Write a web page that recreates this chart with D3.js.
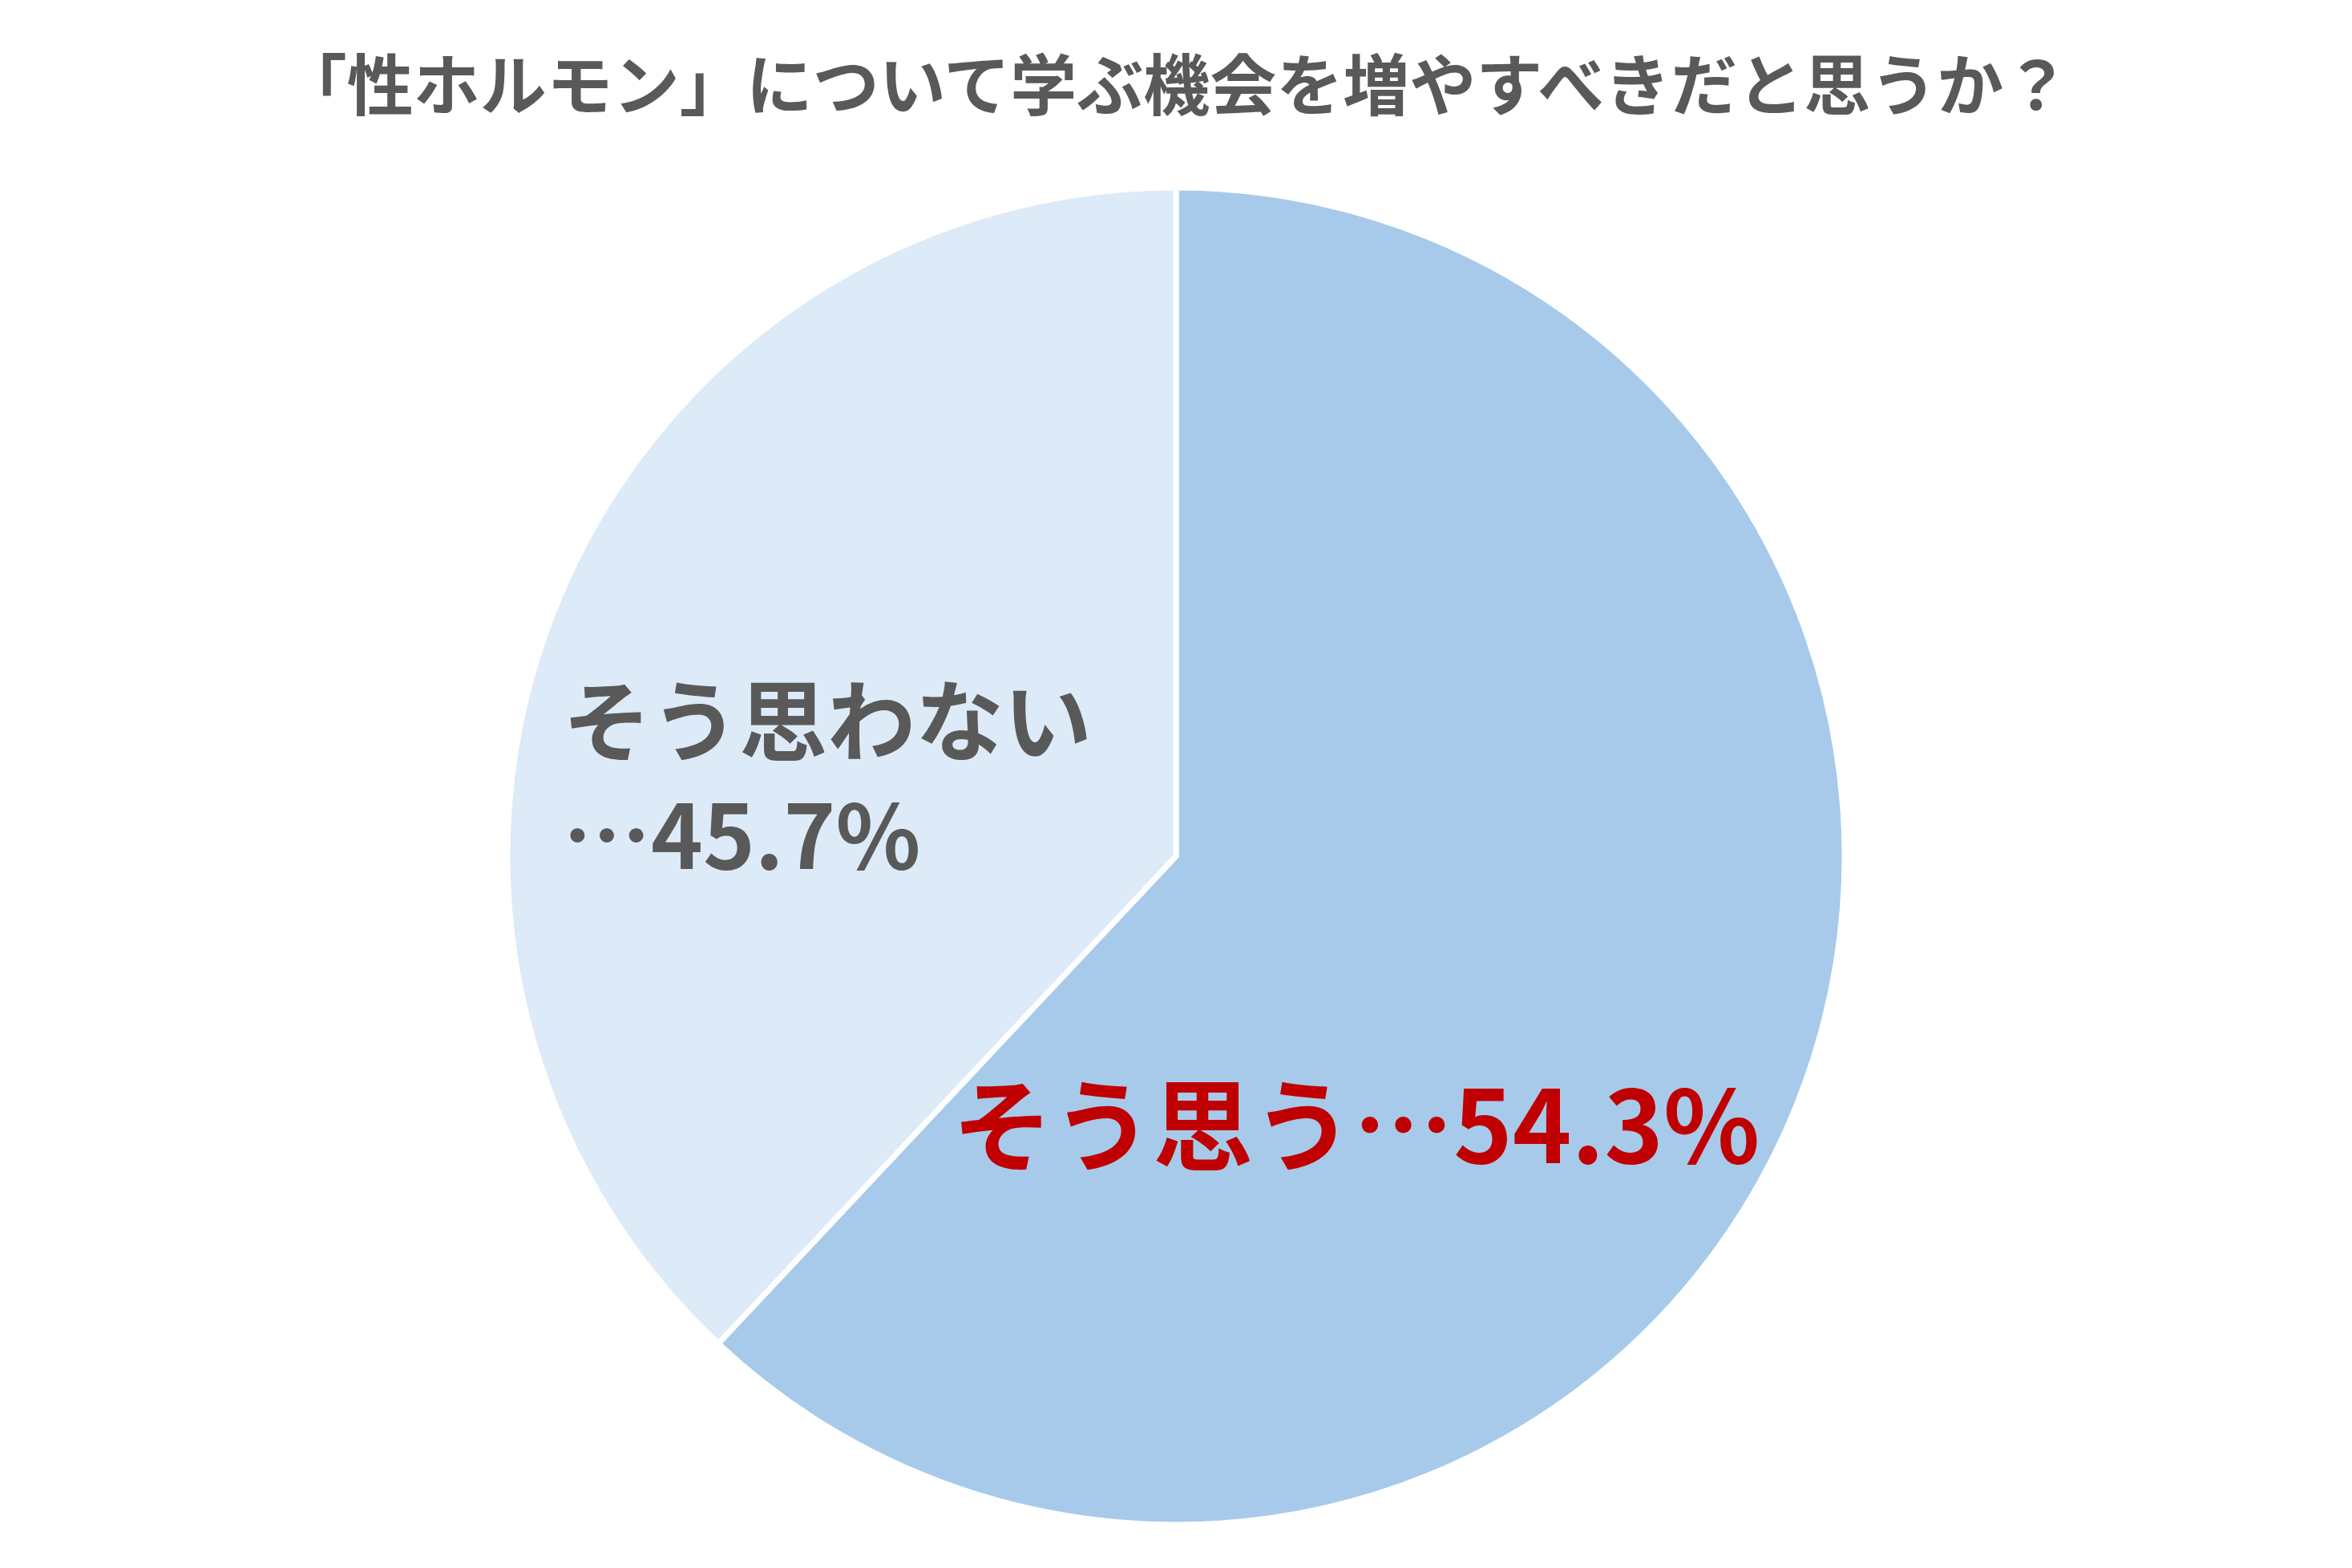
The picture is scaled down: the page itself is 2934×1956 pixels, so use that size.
<!DOCTYPE html>
<html lang="ja">
<head>
    <meta charset="UTF-8">
    <title>性ホルモン</title>
    <style>
        body{ margin: 0; background: #fff; }
        svg{ display: block; }
        text{ font-family: "Noto Sans CJK JP", "Noto Sans", sans-serif; font-weight: 700; }
    </style>
    <script src="https://d3js.org/d3.v7.min.js"></script>
</head>
<body>
    <div id="svg"></div>
    <script>
        const title = "「性ホルモン」について学ぶ機会を増やすべきだと思うか？"
        const categories = ["そう思う", "そう思わない"]
        // slice sizes as drawn in the picture (the printed labels differ)
        const shares = [62.0, 38.0]
        const labelValues = ["54.3%", "45.7%"]
        const colors = ["#A7CAEB", "#DDEAF7"]

        const { boxWidth, boxHeight } = { boxWidth: 2934, boxHeight: 1956 }
        const cx = 1467, cy = 1068, radius = 834

        const svg = d3.select('#svg').append('svg')
        svg.attr("width", boxWidth).attr('height', boxHeight)

        svg.append("text")
        .attr("x", 1466)
        .attr("y", 101)
        .attr("text-anchor", "middle")
        .attr("dominant-baseline", "central")
        .attr("font-size", 83)
        .attr("fill", "#595959")
        .text(title)

        const data = categories.map((c, i) => ({ name: c, value: shares[i], label: labelValues[i], color: colors[i] }))

        const pie = d3.pie().value(d => d.value).sort(null)
        const arc = d3.arc().innerRadius(0).outerRadius(radius)

        const g = svg.append("g").attr("transform", `translate(${cx}, ${cy})`)

        g.selectAll(".slice").data(pie(data)).enter().append("path")
        .attr("class", "slice")
        .attr("d", arc)
        .attr("fill", d => d.data.color)
        .attr("stroke", "#fff")
        .attr("stroke-width", 7)
        .attr("stroke-linejoin", "miter")

        // label for "そう思う"
        svg.append("text")
        .attr("x", 1188)
        .attr("y", 1396)
        .attr("dominant-baseline", "central")
        .attr("font-size", 125)
        .attr("fill", "#C00000")
        .text(data[0].name + "…" + data[0].label)

        // label for "そう思わない" on two lines
        svg.append("text")
        .attr("x", 702)
        .attr("y", 893)
        .attr("dominant-baseline", "central")
        .attr("font-size", 110)
        .attr("fill", "#595959")
        .text(data[1].name)

        svg.append("text")
        .attr("x", 702)
        .attr("y", 1036)
        .attr("dominant-baseline", "central")
        .attr("font-size", 110)
        .attr("fill", "#595959")
        .text("…" + data[1].label)
    </script>
</body>
</html>
